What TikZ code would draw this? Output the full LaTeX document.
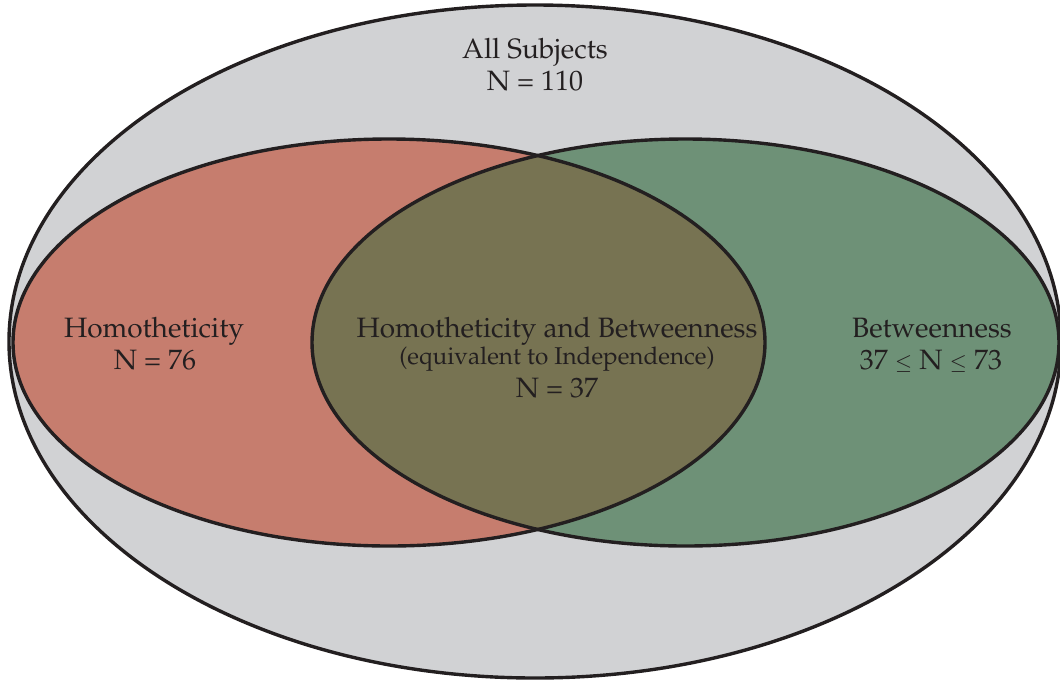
\documentclass[tikz,border=0pt]{standalone}
\usepackage[T1]{fontenc}
\usepackage{mathpazo}
\definecolor{allgray}{HTML}{D1D2D4}
\definecolor{homred}{HTML}{C67D6E}
\definecolor{betgreen}{HTML}{6E9177}
\definecolor{bothol}{HTML}{777352}
\definecolor{edge}{HTML}{231F20}
\newcommand{\smallleq}{{\fontsize{21}{21}\selectfont$\leq$}}
\tikzset{
  setedge/.style={draw=edge, line width=3.4pt},
  biglabel/.style={text=edge, align=center, inner sep=0pt, font=\fontsize{28}{32}\selectfont},
  smalllabel/.style={text=edge, align=center, inner sep=0pt, font=\fontsize{24.3}{28}\selectfont}
}
\begin{document}
\begin{tikzpicture}[x=1pt,y=-1pt]
\useasboundingbox (0,0) rectangle (1060,681);
% outer set
\path[fill=allgray, setedge] (535,341.5) ellipse [x radius=526, y radius=336.5];
% homotheticity and betweenness sets
\fill[homred] (389,342.5) ellipse [x radius=376, y radius=203.5];
\fill[betgreen] (685.5,342.5) ellipse [x radius=373.5, y radius=203.5];
\begin{scope}
  \clip (389,342.5) ellipse [x radius=376, y radius=203.5];
  \fill[bothol] (685.5,342.5) ellipse [x radius=373.5, y radius=203.5];
\end{scope}
\draw[setedge] (389,342.5) ellipse [x radius=376, y radius=203.5];
\draw[setedge] (685.5,342.5) ellipse [x radius=373.5, y radius=203.5];
% labels
\node[biglabel, anchor=base] (all) at (535,58) {All Subjects};
\node[biglabel, anchor=base] (alln) at (535,90) {N = 110};
\node[biglabel, anchor=base] (hom) at (154,337) {Homotheticity};
\node[biglabel, anchor=base] (homn) at (155,369) {N = 76};
\node[biglabel, anchor=base] (bet) at (932,337) {Betweenness};
\node[biglabel, anchor=base] (betn) at (931,369) {37 \smallleq\ N \smallleq\ 73};
\node[biglabel, anchor=base] (both) at (557,337) {Homotheticity and Betweenness};
\node[smalllabel, anchor=base] (equiv) at (557,364) {(equivalent to Independence)};
\node[biglabel, anchor=base] (bothn) at (557,397) {N = 37};
\end{tikzpicture}
\end{document}
